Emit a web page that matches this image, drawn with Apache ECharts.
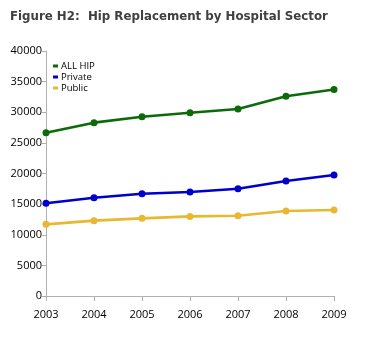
<!DOCTYPE html>
<html><head><meta charset="utf-8">
<script src="https://cdn.jsdelivr.net/npm/echarts@6/dist/echarts.min.js"></script>
<style>html,body{margin:0;padding:0;background:#fff}#c{width:370px;height:344px}</style>
</head><body><div id="c"></div>
<script>
const years = ['2003','2004','2005','2006','2007','2008','2009'];
const allHip = [26650, 28300, 29270, 29930, 30530, 32600, 33700];
const privateS = [15130, 16050, 16700, 16980, 17520, 18780, 19760];
const publicS = [11700, 12300, 12680, 13000, 13100, 13880, 14040];
const seriesNames = ['ALL HIP', 'Private', 'Public'];
const colors = ['#0b6b0b', '#0000cc', '#e8b830'];

const chart = echarts.init(document.getElementById('c'), null, {renderer: 'canvas'});
const mk = (name, data, color) => ({
  name, type: 'line', data, color,
  symbol: 'circle', symbolSize: 7,
  lineStyle: {width: 2.6, color},
  itemStyle: {color},
  animation: false
});
chart.setOption({
  animation: false,
  title: {
    text: 'Figure H2:  Hip Replacement by Hospital Sector',
    left: 5, top: 6,
    textStyle: {fontFamily: 'DejaVu Sans', fontWeight: 'bold', fontSize: 11.8, color: '#404040'}
  },
  legend: {
    orient: 'vertical', left: 48, top: 56,
    itemWidth: 5, itemHeight: 3, itemGap: 1,
    icon: 'rect',
    textStyle: {fontFamily: 'Open Sans', fontSize: 9.5, color: '#000', padding: [0,0,0,-2]},
    data: seriesNames
  },
  grid: {left: 46, right: 36, top: 51, bottom: 48},
  xAxis: {
    type: 'category', data: years, boundaryGap: false,
    axisLine: {lineStyle: {color: '#b0b0b0', width: 1}},
    axisTick: {show: true, alignWithLabel: true, length: 5, lineStyle: {color: '#b0b0b0'}},
    axisLabel: {color: '#000', fontFamily: 'Open Sans', fontSize: 11, margin: 13}
  },
  yAxis: {
    type: 'value', min: 0, max: 40000, interval: 5000,
    axisLine: {show: true, lineStyle: {color: '#b0b0b0', width: 1}},
    axisTick: {show: true, length: 4, lineStyle: {color: '#b0b0b0'}},
    splitLine: {show: false},
    axisLabel: {color: '#000', fontFamily: 'Open Sans', fontSize: 11, margin: 4, formatter: v => String(v)}
  },
  series: [
    mk(seriesNames[0], allHip, colors[0]),
    mk(seriesNames[1], privateS, colors[1]),
    mk(seriesNames[2], publicS, colors[2])
  ]
});
</script></body></html>
